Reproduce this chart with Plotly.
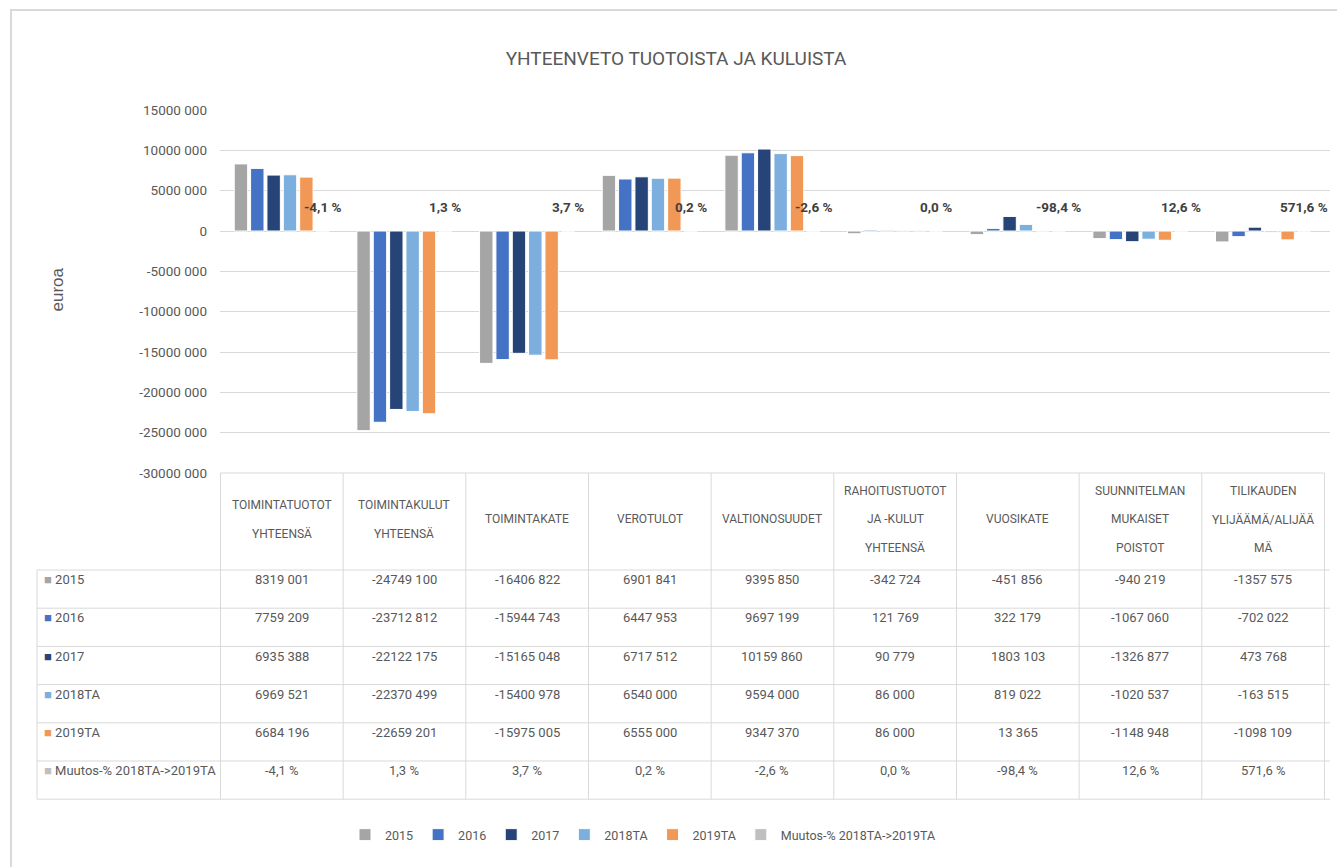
import plotly.graph_objects as go

# ---------------- data ----------------
categories = ["TOIMINTATUOTOT<br>YHTEENSÄ", "TOIMINTAKULUT<br>YHTEENSÄ", "TOIMINTAKATE",
              "VEROTULOT", "VALTIONOSUUDET", "RAHOITUSTUOTOT<br>JA -KULUT<br>YHTEENSÄ",
              "VUOSIKATE", "SUUNNITELMAN<br>MUKAISET<br>POISTOT", "TILIKAUDEN<br>YLIJÄÄMÄ/ALIJÄÄ<br>MÄ"]
series_names = ["2015", "2016", "2017", "2018TA", "2019TA"]
v2015 = [8319001, -24749100, -16406822, 6901841, 9395850, -342724, -451856, -940219, -1357575]
v2016 = [7759209, -23712812, -15944743, 6447953, 9697199, 121769, 322179, -1067060, -702022]
v2017 = [6935388, -22122175, -15165048, 6717512, 10159860, 90779, 1803103, -1326877, 473768]
v2018 = [6969521, -22370499, -15400978, 6540000, 9594000, 86000, 819022, -1020537, -163515]
v2019 = [6684196, -22659201, -15975005, 6555000, 9347370, 86000, 13365, -1148948, -1098109]
pct_name = "Muutos-% 2018TA->2019TA"
pct = [-4.1, 1.3, 3.7, 0.2, -2.6, 0.0, -98.4, 12.6, 571.6]
tick_vals = [15000000, 10000000, 5000000, 0, -5000000, -10000000, -15000000, -20000000, -25000000, -30000000]

colors = ["#a5a5a5", "#4472c4", "#264478", "#7cafdd", "#f29857"]
pct_color = "#bfbfbf"

FONT = "Roboto, Lato, sans-serif"
TXT = "#595959"
GRID = "#d9d9d9"

W, H = 1337, 867


def fmt(v):
    s = str(abs(int(v)))
    if len(s) > 3:
        s = s[:-3] + " " + s[-3:]
    return ("-" if v < 0 else "") + s


def fmt_pct(p):
    return f"{p:.1f}".replace(".", ",") + " %"


def px_x(x):
    return x / W


def px_y(y):
    return 1 - y / H


all_series = [v2015, v2016, v2017, v2018, v2019]

fig = go.Figure()
for name, vals, col in zip(series_names, all_series, colors):
    fig.add_trace(go.Bar(name=name, x=categories, y=vals,
                         marker=dict(color=col, line=dict(color="white", width=1))))
fig.add_trace(go.Bar(name=pct_name, x=categories, y=[p / 100 for p in pct],
                     marker=dict(color=pct_color, line=dict(color="white", width=1))))

annotations = []
shapes = []

# percent labels on the 6th slot of each group
bargap = 0.2
nser = 6
slot = (1 - bargap) / nser
off = -(1 - bargap) / 2 + slot * 5.5
for i, p in enumerate(pct):
    annotations.append(dict(x=i + off, y=3000000, xref="x", yref="y", text="<b>" + fmt_pct(p) + "</b>",
                            showarrow=False, font=dict(family=FONT, size=13.5, color="#404040")))

# ---------------- data table (below the plot, aligned to the category axis) ----------------
x_left, x_plot, x_right = 37, 220, 1330
t_top, h_bottom = 473, 570
row_h = 38.2
n_rows = len(series_names) + 1
t_bottom = h_bottom + n_rows * row_h
line = dict(color=GRID, width=1)

# header text (each line placed separately for Excel-like line spacing)
hdr_center, hdr_gap = 519, 28.5
for i, c in enumerate(categories):
    parts = c.split("<br>")
    n = len(parts)
    for k, part in enumerate(parts):
        yy = hdr_center + (k - (n - 1) / 2) * hdr_gap
        annotations.append(dict(x=i, y=px_y(yy), xref="x", yref="paper", text=part, showarrow=False,
                                font=dict(family=FONT, size=12, color=TXT)))

# body rows
row_labels = series_names + [pct_name]
row_colors = colors + [pct_color]
row_values = [[fmt(v) for v in s] for s in all_series] + [[fmt_pct(p) for p in pct]]
for r in range(n_rows):
    yc = h_bottom + (r + 0.5) * row_h
    annotations.append(dict(x=px_x(x_left + 5), y=px_y(yc), xref="paper", yref="paper",
                            xanchor="left", showarrow=False,
                            text=f"<span style='color:{row_colors[r]}'>■</span> {row_labels[r]}",
                            font=dict(family=FONT, size=13, color=TXT)))
    for i, val in enumerate(row_values[r]):
        annotations.append(dict(x=i, y=px_y(yc), xref="x", yref="paper", text=val, showarrow=False,
                                font=dict(family=FONT, size=13, color=TXT)))

# table grid lines
shapes.append(dict(type="line", xref="x", yref="paper", x0=-0.5, x1=len(categories) - 0.5,
                   y0=px_y(t_top), y1=px_y(t_top), line=line))
for r in range(n_rows + 1):
    yy = h_bottom + r * row_h
    shapes.append(dict(type="line", xref="paper", yref="paper", x0=px_x(x_left), x1=px_x(x_right),
                       y0=px_y(yy), y1=px_y(yy), line=line))
for i in range(len(categories) + 1):
    shapes.append(dict(type="line", xref="x", yref="paper", x0=i - 0.5, x1=i - 0.5,
                       y0=px_y(t_top), y1=px_y(t_bottom), line=line))
shapes.append(dict(type="line", xref="paper", yref="paper", x0=px_x(x_left), x1=px_x(x_left),
                   y0=px_y(h_bottom), y1=px_y(t_bottom), line=line))

# outer chart frame
shapes.append(dict(type="rect", xref="paper", yref="paper", x0=px_x(11), x1=1.02,
                   y0=-0.05, y1=px_y(10), line=dict(color=GRID, width=2), fillcolor="rgba(0,0,0,0)"))

annotations.append(dict(text="euroa", x=px_x(45), y=px_y(290), xref="paper", yref="paper", textangle=-90,
                        showarrow=False, font=dict(family="Liberation Sans, Arial, sans-serif", size=17, color=TXT)))

fig.update_layout(
    width=W, height=H,
    margin=dict(l=0, r=0, t=0, b=0, autoexpand=False),
    paper_bgcolor="white", plot_bgcolor="white",
    barmode="group", bargap=bargap, bargroupgap=0.18,
    showlegend=True,
    title=dict(text="YHTEENVETO TUOTOISTA JA KULUISTA", x=px_x(676), xanchor="center",
               y=px_y(58), yanchor="middle", yref="container",
               font=dict(family=FONT, size=19, color=TXT)),
    legend=dict(orientation="h", x=px_x(643), xanchor="center", y=px_y(835), yanchor="middle",
                font=dict(family=FONT, size=12.5, color=TXT), itemwidth=30, traceorder="normal"),
    xaxis=dict(domain=[px_x(x_plot), px_x(x_right)], showticklabels=False, showgrid=False,
               zeroline=False, showline=False, fixedrange=True),
    yaxis=dict(domain=[px_y(t_top), px_y(110)], range=[-30000000, 15000000],
               tickvals=tick_vals, ticktext=[fmt(v) for v in tick_vals],
               showgrid=True, gridcolor=GRID, gridwidth=1, zeroline=True, zerolinecolor=GRID,
               zerolinewidth=1, showline=False, ticks="", ticklabelstandoff=12,
               tickfont=dict(family=FONT, size=13.5, color=TXT)),
    shapes=shapes,
    annotations=annotations,
)

fig.write_html("out.html", config={"displayModeBar": False},
               post_script="document.body.style.margin='0';document.body.style.overflow='hidden';")
